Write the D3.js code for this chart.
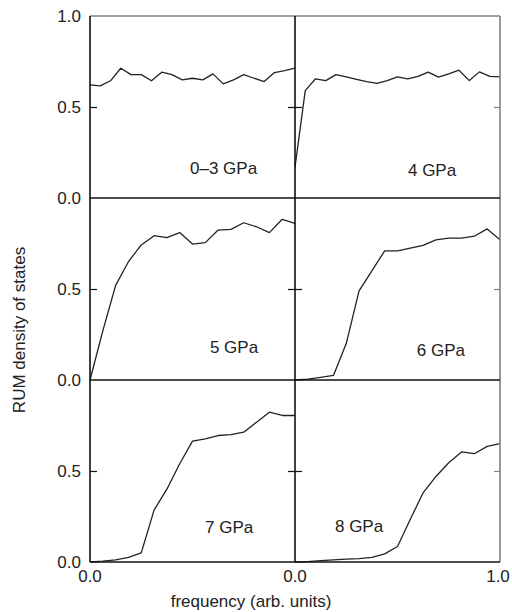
<!DOCTYPE html>
<html>
<head>
<meta charset="utf-8">
<script src="https://cdn.jsdelivr.net/npm/d3@7"></script>
<style>
  body { margin: 0; background: #fff; }
  text { font-family: "Liberation Sans", Arial, Helvetica, sans-serif; fill: #222; }
</style>
</head>
<body>
<svg id="chart" width="512" height="612"></svg>
<script>
// panel names, in reading order (row by row)
var PANEL_LABELS = ["0\u20133 GPa", "4 GPa", "5 GPa", "6 GPa", "7 GPa", "8 GPa"];

// RUM density of states, evenly spaced along frequency 0..1
var DOS_0_3 = [0.622, 0.616, 0.644, 0.713, 0.678, 0.678, 0.644, 0.691, 0.678, 0.649, 0.658,
               0.649, 0.682, 0.627, 0.649, 0.678, 0.658, 0.640, 0.689, 0.700, 0.713];
var DOS_4   = [0.17, 0.59, 0.655, 0.645, 0.678, 0.665, 0.652, 0.640, 0.630, 0.645, 0.665,
               0.655, 0.668, 0.692, 0.664, 0.682, 0.702, 0.645, 0.693, 0.668, 0.665];
var DOS_5   = [0.0, 0.27, 0.52, 0.65, 0.742, 0.793, 0.782, 0.81, 0.747, 0.755, 0.824,
               0.828, 0.864, 0.842, 0.81, 0.883, 0.861];
var DOS_6   = [0.0, 0.005, 0.015, 0.025, 0.2, 0.49, 0.6, 0.71, 0.71, 0.725, 0.74,
               0.77, 0.78, 0.78, 0.79, 0.83, 0.77];
var DOS_7   = [0.0, 0.005, 0.012, 0.025, 0.05, 0.285, 0.4, 0.54, 0.664, 0.677, 0.695,
               0.70, 0.713, 0.768, 0.823, 0.805, 0.805];
var DOS_8   = [0.0, 0.002, 0.008, 0.012, 0.016, 0.018, 0.025, 0.045, 0.085, 0.235, 0.38,
               0.47, 0.545, 0.605, 0.595, 0.635, 0.65];
var SERIES = [DOS_0_3, DOS_4, DOS_5, DOS_6, DOS_7, DOS_8];

// tick labels
var Y_TICKS = [0.0, 0.5, 1.0];
var X_TICK_LABELS = ["0.0", "0.0", "1.0"];

// layout
var LEFT = 90, PANEL_W = 205, TOP = 16, PANEL_H = 182;
var ROWS = 3, COLS = 2;
var LINE_COLOR = "#111";
var EDGE_COLOR = "#808080";
var FONT_SIZE = "17px";
// where each panel label sits, in data units of its panel
var LABEL_POS = [[0.488, 0.13], [0.551, 0.12], [0.585, 0.148], [0.594, 0.13], [0.561, 0.16], [0.195, 0.165]];

var svg = d3.select("#chart");

function xScale(col) {
    return d3.scaleLinear().domain([0, 1]).range([LEFT + col * PANEL_W, LEFT + (col + 1) * PANEL_W]);
}
function yScale(row) {
    return d3.scaleLinear().domain([0, 1]).range([TOP + (row + 1) * PANEL_H, TOP + row * PANEL_H]);
}

//draw curves
SERIES.forEach(function (vals, i) {
    var row = Math.floor(i / COLS), col = i % COLS;
    var x = xScale(col), y = yScale(row);
    var n = vals.length;
    var line = d3.line()
        .x(function (d, j) { return x(j / (n - 1)); })
        .y(function (d) { return y(d); });
    svg.append("path")
        .attr("class", "dos-curve")
        .attr("d", line(vals))
        .style("fill", "none")
        .style("stroke", "#222")
        .style("stroke-width", 1.3)
        .style("stroke-linejoin", "round");
    //panel label
    svg.append("text")
        .attr("x", x(LABEL_POS[i][0]))
        .attr("y", y(LABEL_POS[i][1]))
        .style("font-size", FONT_SIZE)
        .text(PANEL_LABELS[i]);
});

//draw frame: grey top and right edges, black elsewhere
var x0 = xScale(0), x1 = xScale(1);
var yTop = yScale(0), yBot = yScale(ROWS - 1);
svg.append("line")
    .attr("x1", x0(0)).attr("x2", x1(1))
    .attr("y1", yTop(1)).attr("y2", yTop(1))
    .style("stroke", EDGE_COLOR).style("stroke-width", 1.6);
svg.append("line")
    .attr("x1", x1(1)).attr("x2", x1(1))
    .attr("y1", yTop(1)).attr("y2", yBot(0))
    .style("stroke", EDGE_COLOR).style("stroke-width", 1.6);
for (var r = 0; r < ROWS; r++) {
    var yr = yScale(r);
    svg.append("line")
        .attr("x1", x0(0)).attr("x2", x1(1))
        .attr("y1", yr(0)).attr("y2", yr(0))
        .style("stroke", LINE_COLOR).style("stroke-width", 1.6);
}
[x0(0), x1(0)].forEach(function (xv) {
    svg.append("line")
        .attr("x1", xv).attr("x2", xv)
        .attr("y1", yTop(1)).attr("y2", yBot(0))
        .style("stroke", LINE_COLOR).style("stroke-width", 1.6);
});

//draw y ticks and labels
for (var r = 0; r < ROWS; r++) {
    var y = yScale(r);
    var ticks = r === 0 ? Y_TICKS : Y_TICKS.slice(0, 2);
    //left axis: inward ticks, labels
    svg.append("g")
        .attr("transform", "translate(" + x0(0) + ",0)")
        .call(d3.axisRight(y).tickValues([0.5]).tickSize(7).tickFormat(""))
        .call(function (g) { g.select(".domain").remove(); g.selectAll("line").style("stroke", LINE_COLOR).style("stroke-width", 1.2); });
    ticks.forEach(function (t) {
        svg.append("text")
            .attr("x", 81)
            .attr("y", y(t))
            .attr("dy", "0.36em")
            .style("text-anchor", "end")
            .style("font-size", FONT_SIZE)
            .text(d3.format(".1f")(t));
    });
    //middle divider: ticks on both sides
    svg.append("g")
        .attr("transform", "translate(" + (x1(0) - 7) + ",0)")
        .call(d3.axisRight(y).tickValues([0.5]).tickSize(14).tickFormat(""))
        .call(function (g) { g.select(".domain").remove(); g.selectAll("line").style("stroke", LINE_COLOR).style("stroke-width", 1.2); });
    //right edge: inward ticks
    svg.append("g")
        .attr("transform", "translate(" + x1(1) + ",0)")
        .call(d3.axisLeft(y).tickValues([0.5]).tickSize(6).tickFormat(""))
        .call(function (g) { g.select(".domain").remove(); g.selectAll("line").style("stroke", EDGE_COLOR).style("stroke-width", 1.2); });
}

//draw x tick labels
var xTickPos = [x0(0), x1(0), x1(1) - 2];
X_TICK_LABELS.forEach(function (lab, i) {
    svg.append("text")
        .attr("x", xTickPos[i])
        .attr("y", yBot(0) + 20)
        .style("text-anchor", "middle")
        .style("font-size", FONT_SIZE)
        .text(lab);
});

//axis titles
svg.append("text")
    .attr("transform", "translate(25,330) rotate(-90)")
    .style("text-anchor", "middle")
    .style("font-size", FONT_SIZE)
    .text("RUM density of states");
svg.append("text")
    .attr("x", 251)
    .attr("y", 607)
    .style("text-anchor", "middle")
    .style("font-size", FONT_SIZE)
    .text("frequency (arb. units)");
</script>
</body>
</html>
